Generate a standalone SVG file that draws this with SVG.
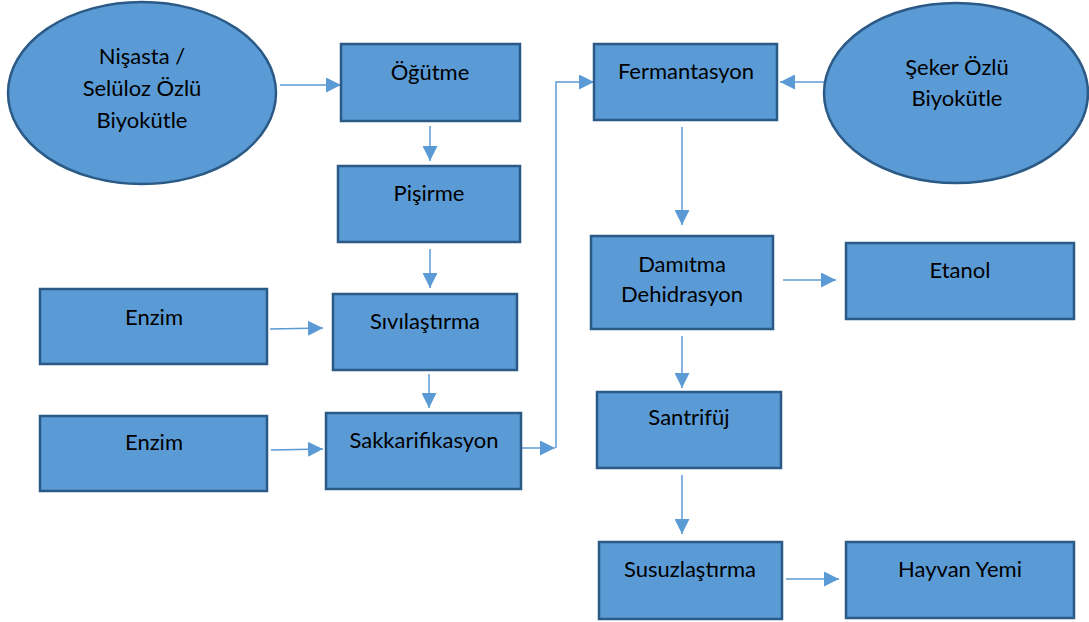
<svg xmlns="http://www.w3.org/2000/svg" width="1089" height="622" viewBox="0 0 1089 622">
<defs>
<marker id="ah" markerWidth="15" markerHeight="15" refX="15" refY="7.5" orient="auto" markerUnits="userSpaceOnUse" viewBox="0 0 15 15">
<path d="M0,0 L15,7.5 L0,15 Z" fill="#5B9BD5"/>
</marker>
<style>
.n{fill:#5B9BD5;stroke:#2B5A86;stroke-width:2.5}
.t{font-family:Lato,"Liberation Sans",sans-serif;font-size:22px;fill:#000;text-anchor:middle}
.c{fill:none;stroke:#5B9BD5;stroke-width:1.5}
.a{marker-end:url(#ah)}
</style>
</defs>
<rect width="1089" height="622" fill="#fff"/>
<g id="connectors">
<line class="c a" x1="280" y1="85" x2="341" y2="85"/>
<line class="c a" x1="430" y1="126" x2="430" y2="161"/>
<line class="c a" x1="430" y1="249" x2="430" y2="288"/>
<line class="c a" x1="429" y1="374" x2="429" y2="408"/>
<line class="c a" x1="270" y1="329" x2="323" y2="328"/>
<line class="c a" x1="271" y1="450" x2="323" y2="449"/>
<line class="c a" x1="522" y1="448" x2="555" y2="448"/>
<polyline class="c a" points="556,448 556,82 594,82"/>
<line class="c a" x1="824" y1="82" x2="780" y2="82"/>
<line class="c a" x1="682" y1="127" x2="682" y2="225"/>
<line class="c a" x1="783" y1="280" x2="836" y2="280"/>
<line class="c a" x1="682" y1="336" x2="682" y2="388"/>
<line class="c a" x1="682" y1="475" x2="682" y2="534"/>
<line class="c a" x1="786" y1="579" x2="839" y2="579"/>
</g>
<g id="nisasta"><ellipse class="n" cx="142" cy="93" rx="134" ry="91"/>
<text class="t" x="142" y="64">Nişasta /</text><text class="t" x="142" y="96">Selüloz Özlü</text><text class="t" x="142" y="128">Biyokütle</text></g>
<g id="ogutme"><rect class="n" x="341" y="44" width="179" height="77"/><text class="t" x="430" y="80">Öğütme</text></g>
<g id="pisirme"><rect class="n" x="338" y="166" width="182" height="76"/><text class="t" x="429" y="201">Pişirme</text></g>
<g id="enzim1"><rect class="n" x="40" y="289" width="227" height="75"/><text class="t" x="154" y="325">Enzim</text></g>
<g id="sivilastirma"><rect class="n" x="333" y="294" width="184" height="76"/><text class="t" x="425" y="329">Sıvılaştırma</text></g>
<g id="enzim2"><rect class="n" x="40" y="416" width="227" height="75"/><text class="t" x="154" y="450">Enzim</text></g>
<g id="sakkarifikasyon"><rect class="n" x="326" y="413" width="195" height="76"/><text class="t" x="424" y="448">Sakkarifikasyon</text></g>
<g id="fermantasyon"><rect class="n" x="594" y="44" width="183" height="76"/><text class="t" x="686" y="79">Fermantasyon</text></g>
<g id="seker"><ellipse class="n" cx="956" cy="93" rx="132" ry="90"/>
<text class="t" x="957" y="75">Şeker Özlü</text><text class="t" x="957" y="106">Biyokütle</text></g>
<g id="damitma"><rect class="n" x="591" y="236" width="182" height="93"/><text class="t" x="682" y="272">Damıtma</text><text class="t" x="682" y="302">Dehidrasyon</text></g>
<g id="etanol"><rect class="n" x="846" y="243" width="228" height="76"/><text class="t" x="960" y="278">Etanol</text></g>
<g id="santrifuj"><rect class="n" x="597" y="392" width="184" height="76"/><text class="t" x="689" y="425">Santrifüj</text></g>
<g id="susuzlastirma"><rect class="n" x="599" y="542" width="183" height="77"/><text class="t" x="690" y="577">Susuzlaştırma</text></g>
<g id="hayvanyemi"><rect class="n" x="846" y="542" width="228" height="76"/><text class="t" x="960" y="577">Hayvan Yemi</text></g>
</svg>
